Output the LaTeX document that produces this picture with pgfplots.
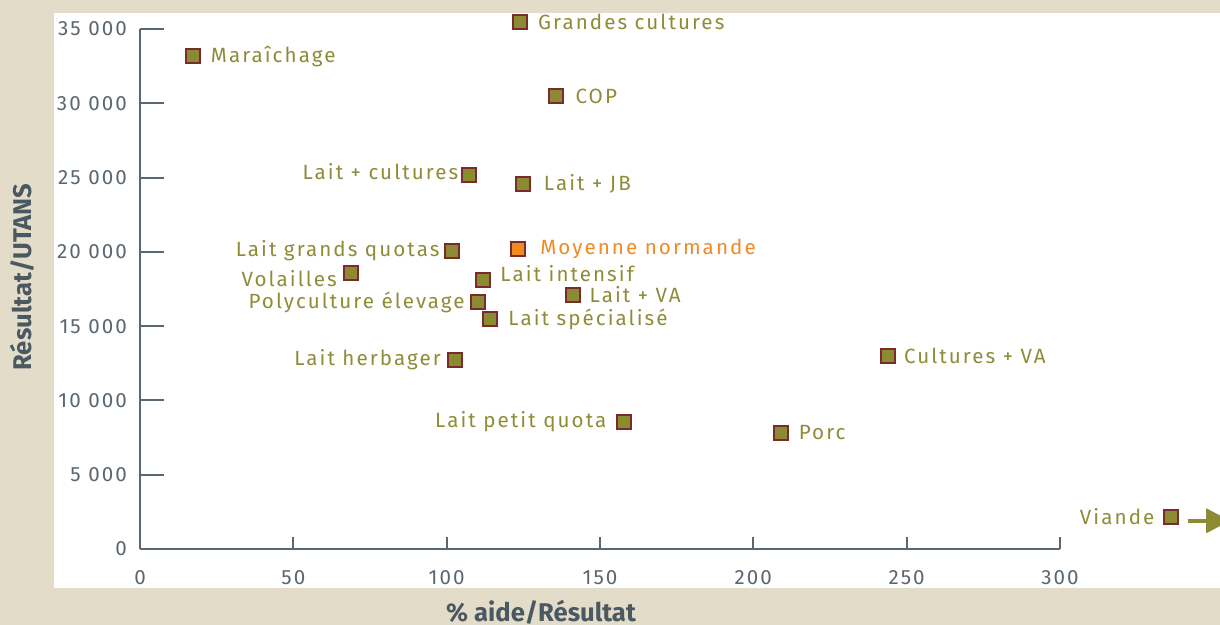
\documentclass[border=0pt]{standalone}
\usepackage{pgfplots}
\pgfplotsset{compat=1.18}
\usetikzlibrary{arrows.meta}
\usepackage{fontspec}
\setmainfont{Fira Sans}
\newfontfamily\lblfont[LetterSpace=10]{Fira Sans}
\newfontfamily\tickfont[LetterSpace=10]{Fira Sans}
\definecolor{bgbeige}{HTML}{E2DCC8}
\definecolor{olive}{HTML}{8C8A32}
\definecolor{olivetext}{HTML}{8F8C38}
\definecolor{mkedge}{HTML}{7A2C2C}
\definecolor{orangept}{HTML}{F28A22}
\definecolor{axisgrey}{HTML}{5B6770}
\definecolor{labelgrey}{HTML}{4A5862}

\pgfplotstableread{
x y
17.3 33180
123.9 35460
135.6 30480
107.3 25170
124.9 24560
101.7 20050
68.8 18570
111.8 18100
141.2 17090
110.2 16620
114.1 15480
102.7 12720
243.9 12990
157.8 8550
209.0 7810
336.2 2150
}\types
\pgfplotstableread{
x y
123.2 20190
}\moyenne

\begin{document}
\begin{tikzpicture}[x=1pt,y=1pt]
\useasboundingbox (0,0) rectangle (610,312.5);
\fill[bgbeige] (0,0) rectangle (610,312.5);
\fill[white] (27,18.5) rectangle (610,306);
\node[rotate=90, font=\bfseries\fontsize{12.8}{14}\selectfont, text=labelgrey] at (11,174) {Résultat/UTANS};
\node[font=\bfseries\fontsize{12.8}{14}\selectfont, text=labelgrey] at (270.5,6.5) {\% aide/Résultat};
\begin{axis}[
  at={(70pt,38pt)}, anchor=south west, scale only axis,
  width=460pt, height=260pt,
  xmin=0, xmax=300, ymin=0, ymax=35000,
  scaled y ticks=false,
  axis lines=left, axis line style={-, axisgrey, line width=1pt},
  tick align=inside,
  xtick={0,50,100,150,200,250,300},
  xticklabels={0,50,100,150,200,250,300},
  ytick={0,5000,10000,15000,20000,25000,30000,35000},
  yticklabels={0,5 000,10 000,15 000,20 000,25 000,30 000,35 000},
  xtick style={axisgrey, line width=1pt, /pgfplots/major tick length=6pt},
  ytick style={axisgrey, line width=1pt, /pgfplots/major tick length=12pt},
  tick label style={font=\tickfont\fontsize{10.3}{12}\selectfont, text=axisgrey},
  xticklabel style={yshift=-7pt},
  yticklabel style={xshift=-3pt},
  clip=false,
]
\addplot[only marks, mark=square*, mark size=3.4pt,
  mark options={fill=olive, draw=mkedge, line width=0.9pt}] table {\types};
\addplot[only marks, mark=square*, mark size=3.4pt,
  mark options={fill=orangept, draw=mkedge, line width=0.9pt}] table {\moyenne};
\begin{scope}[every node/.style={font=\lblfont\fontsize{10.3}{12}\selectfont, text=olivetext, inner sep=0pt}]
\node[anchor=west] at (axis cs:23.0,33180) {Maraîchage};
\node[anchor=west] at (axis cs:129.7,35460) {Grandes cultures};
\node[anchor=west] at (axis cs:141.9,30480) {COP};
\node[anchor=east] at (axis cs:103.9,25400) {Lait + cultures};
\node[anchor=west] at (axis cs:131.6,24560) {Lait + JB};
\node[anchor=east] at (axis cs:97.8,20050) {Lait grands quotas};
\node[anchor=west, text=orangept] at (axis cs:130.4,20190) {Moyenne normande};
\node[anchor=east] at (axis cs:64.3,18170) {Volailles};
\node[anchor=west] at (axis cs:117.4,18570) {Lait intensif};
\node[anchor=west] at (axis cs:146.5,17090) {Lait + VA};
\node[anchor=east] at (axis cs:106.0,16620) {Polyculture élevage};
\node[anchor=west] at (axis cs:120.0,15480) {Lait spécialisé};
\node[anchor=east] at (axis cs:98.2,12720) {Lait herbager};
\node[anchor=west] at (axis cs:249.0,12990) {Cultures + VA};
\node[anchor=east] at (axis cs:152.2,8550) {Lait petit quota};
\node[anchor=west] at (axis cs:214.7,7810) {Porc};
\node[anchor=east] at (axis cs:330.9,2150) {Viande};
\end{scope}
\draw[olive, line width=1.8pt, -{Triangle[length=12pt,width=12pt]}] (axis cs:341.7,1900) -- (axis cs:355.5,1900);
\end{axis}
\end{tikzpicture}
\end{document}
